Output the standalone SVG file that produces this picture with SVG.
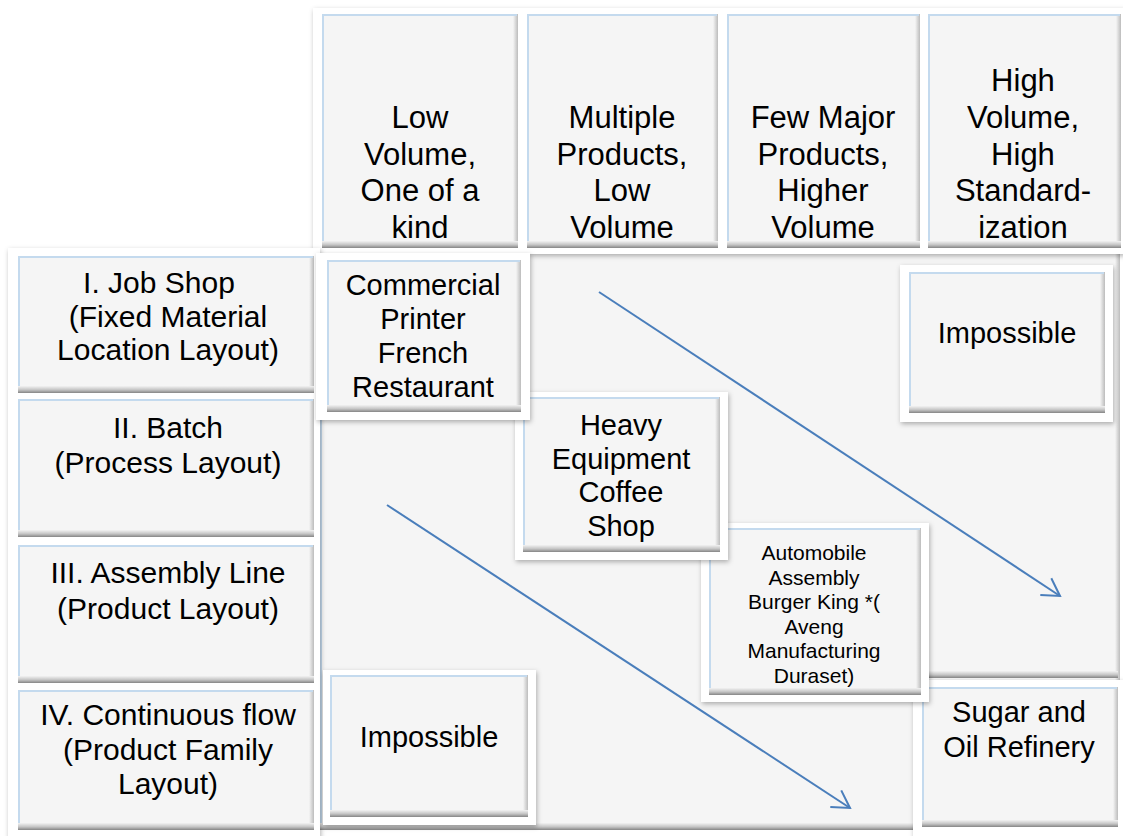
<svg xmlns="http://www.w3.org/2000/svg" width="1123" height="836" viewBox="0 0 1123 836">
<defs>
<style>
.c{fill:#f5f5f5}
.gb{fill:url(#gb)}
.gr{fill:url(#gr)}
.hl{fill:none;stroke:#c4daee;stroke-width:2}
.wf{fill:#ffffff;filter:url(#sh)}
text{font-family:"Liberation Sans",Arial,sans-serif;fill:#000;text-anchor:middle}
.h{font-size:31px}
.l{font-size:30px}
.t{font-size:29px}
.s{font-size:21px}
.arr{fill:none;stroke:#4a7ebb;stroke-width:2}
</style>
<linearGradient id="gb" x1="0" y1="0" x2="0" y2="1">
<stop offset="0" stop-color="#f2f2f2"/>
<stop offset="0.55" stop-color="#c4c4c4"/>
<stop offset="1" stop-color="#858585"/>
</linearGradient>
<linearGradient id="gr" x1="0" y1="0" x2="1" y2="0">
<stop offset="0" stop-color="#f5f5f5"/>
<stop offset="1" stop-color="#bcbcbc"/>
</linearGradient>
<filter id="sh" x="-10%" y="-10%" width="120%" height="120%">
<feDropShadow dx="1" dy="2" stdDeviation="2.5" flood-color="#000" flood-opacity="0.3"/>
</filter>
<marker id="ah" markerUnits="userSpaceOnUse" markerWidth="24" markerHeight="24" viewBox="0 0 24 24" refX="20" refY="12" orient="auto">
<path d="M3,2 L20,12 L3,22" fill="none" stroke="#4a7ebb" stroke-width="2"/>
</marker>
</defs>
<rect width="1123" height="836" fill="#ffffff"/>

<g id="body">
<rect class="c" x="320" y="252" width="800" height="578"/>
<path class="hl" d="M321,829 V253 H1119"/>
<rect class="gb" x="320" y="823" width="800" height="7"/>
<rect class="gr" x="1115" y="252" width="5" height="571"/>
<rect class="gb" x="928" y="671" width="190" height="7"/>
</g>

<g id="header-panel">
<rect class="wf" x="313" y="8" width="812" height="246"/>
<g id="col1">
<rect class="c" x="322" y="14" width="196" height="234"/><rect class="gb" x="322" y="241" width="196" height="7"/><rect class="gr" x="513" y="14" width="5" height="227"/><path class="hl" d="M323,241 V15 H517"/>
<text class="h"><tspan x="420" y="128">Low</tspan><tspan x="420" y="164.5">Volume,</tspan><tspan x="420" y="201">One of a</tspan><tspan x="420" y="238">kind</tspan></text>
</g>
<g id="col2">
<rect class="c" x="527" y="14" width="191" height="234"/><rect class="gb" x="527" y="241" width="191" height="7"/><rect class="gr" x="713" y="14" width="5" height="227"/><path class="hl" d="M528,241 V15 H717"/>
<text class="h"><tspan x="622" y="128">Multiple</tspan><tspan x="622" y="164.5">Products,</tspan><tspan x="622" y="201">Low</tspan><tspan x="622" y="238">Volume</tspan></text>
</g>
<g id="col3">
<rect class="c" x="727" y="14" width="193" height="234"/><rect class="gb" x="727" y="241" width="193" height="7"/><rect class="gr" x="915" y="14" width="5" height="227"/><path class="hl" d="M728,241 V15 H919"/>
<text class="h"><tspan x="823" y="128">Few Major</tspan><tspan x="823" y="164.5">Products,</tspan><tspan x="823" y="201">Higher</tspan><tspan x="823" y="238">Volume</tspan></text>
</g>
<g id="col4">
<rect class="c" x="928" y="14" width="193" height="234"/><rect class="gb" x="928" y="241" width="193" height="7"/><rect class="gr" x="1116" y="14" width="5" height="227"/><path class="hl" d="M929,241 V15 H1120"/>
<text class="h"><tspan x="1023" y="91">High</tspan><tspan x="1023" y="128">Volume,</tspan><tspan x="1023" y="164.5">High</tspan><tspan x="1023" y="201">Standard-</tspan><tspan x="1023" y="238">ization</tspan></text>
</g>
</g>

<g id="label-panel">
<rect class="wf" x="8" y="248" width="312" height="590"/>
<g id="row1">
<rect class="c" x="18" y="256" width="296" height="137"/><rect class="gb" x="18" y="386" width="296" height="7"/><rect class="gr" x="309" y="256" width="5" height="130"/><path class="hl" d="M19,386 V257 H313"/>
<text class="l"><tspan x="159" y="293">I. Job Shop</tspan><tspan x="168" y="326.5">(Fixed Material</tspan><tspan x="168" y="360">Location Layout)</tspan></text>
</g>
<g id="row2">
<rect class="c" x="18" y="399" width="296" height="138"/><rect class="gb" x="18" y="530" width="296" height="7"/><rect class="gr" x="309" y="399" width="5" height="131"/><path class="hl" d="M19,530 V400 H313"/>
<text class="l"><tspan x="168" y="438">II. Batch</tspan><tspan x="168" y="473">(Process Layout)</tspan></text>
</g>
<g id="row3">
<rect class="c" x="18" y="545" width="296" height="138"/><rect class="gb" x="18" y="676" width="296" height="7"/><rect class="gr" x="309" y="545" width="5" height="131"/><path class="hl" d="M19,676 V546 H313"/>
<text class="l"><tspan x="168" y="583">III. Assembly Line</tspan><tspan x="168" y="619">(Product Layout)</tspan></text>
</g>
<g id="row4">
<rect class="c" x="18" y="690" width="296" height="140"/><rect class="gb" x="18" y="823" width="296" height="7"/><rect class="gr" x="309" y="690" width="5" height="133"/><path class="hl" d="M19,823 V691 H313"/>
<text class="l"><tspan x="168" y="725">IV. Continuous flow</tspan><tspan x="168" y="760">(Product Family</tspan><tspan x="168" y="794">Layout)</tspan></text>
</g>
</g>

<g id="sugar">
<rect class="wf" x="913" y="680" width="212" height="160"/>
<rect class="c" x="922" y="687" width="196" height="140"/><rect class="gb" x="922" y="820" width="196" height="7"/><rect class="gr" x="1113" y="687" width="5" height="133"/><path class="hl" d="M923,820 V688 H1117"/>
<text class="t"><tspan x="1019" y="722">Sugar and</tspan><tspan x="1019" y="757">Oil Refinery</tspan></text>
</g>

<g id="impossible-bl">
<rect class="wf" x="323" y="670" width="213" height="155"/>
<rect class="c" x="330" y="675" width="198" height="142"/><rect class="gb" x="330" y="810" width="198" height="7"/><rect class="gr" x="523" y="675" width="5" height="135"/><path class="hl" d="M331,810 V676 H527"/>
<text class="t" x="429" y="747">Impossible</text>
</g>

<g id="impossible-tr">
<rect class="wf" x="900" y="265" width="213" height="157"/>
<rect class="c" x="909" y="272" width="196" height="141"/><rect class="gb" x="909" y="406" width="196" height="7"/><rect class="gr" x="1100" y="272" width="5" height="134"/><path class="hl" d="M910,406 V273 H1104"/>
<text class="t" x="1007" y="343">Impossible</text>
</g>

<g id="automobile">
<rect class="wf" x="701" y="523" width="228" height="179"/>
<rect class="c" x="709" y="528" width="212" height="167"/><rect class="gb" x="709" y="688" width="212" height="7"/><rect class="gr" x="916" y="528" width="5" height="160"/><path class="hl" d="M710,688 V529 H920"/>
<text class="s"><tspan x="814" y="560">Automobile</tspan><tspan x="814" y="584.6">Assembly</tspan><tspan x="814" y="609.2">Burger King *(</tspan><tspan x="814" y="633.8">Aveng</tspan><tspan x="814" y="658.4">Manufacturing</tspan><tspan x="814" y="683">Duraset)</tspan></text>
</g>

<g id="heavy">
<rect class="wf" x="515" y="392" width="213" height="168"/>
<rect class="c" x="523" y="397" width="197" height="155"/><rect class="gb" x="523" y="545" width="197" height="7"/><rect class="gr" x="715" y="397" width="5" height="148"/><path class="hl" d="M524,545 V398 H719"/>
<text class="t"><tspan x="621" y="435">Heavy</tspan><tspan x="621" y="468.5">Equipment</tspan><tspan x="621" y="502">Coffee</tspan><tspan x="621" y="535.5">Shop</tspan></text>
</g>

<g id="commercial">
<rect class="wf" x="316" y="253" width="214" height="167"/>
<rect class="c" x="327" y="260" width="194" height="152"/><rect class="gb" x="327" y="405" width="194" height="7"/><rect class="gr" x="516" y="260" width="5" height="145"/><path class="hl" d="M328,405 V261 H520"/>
<text class="t"><tspan x="423" y="295">Commercial</tspan><tspan x="423" y="329">Printer</tspan><tspan x="423" y="363">French</tspan><tspan x="423" y="397">Restaurant</tspan></text>
</g>

<g id="connectors">
<line class="arr" x1="599" y1="292" x2="1060" y2="596" marker-end="url(#ah)"/>
<line class="arr" x1="387" y1="505" x2="850" y2="808" marker-end="url(#ah)"/>
</g>
</svg>
